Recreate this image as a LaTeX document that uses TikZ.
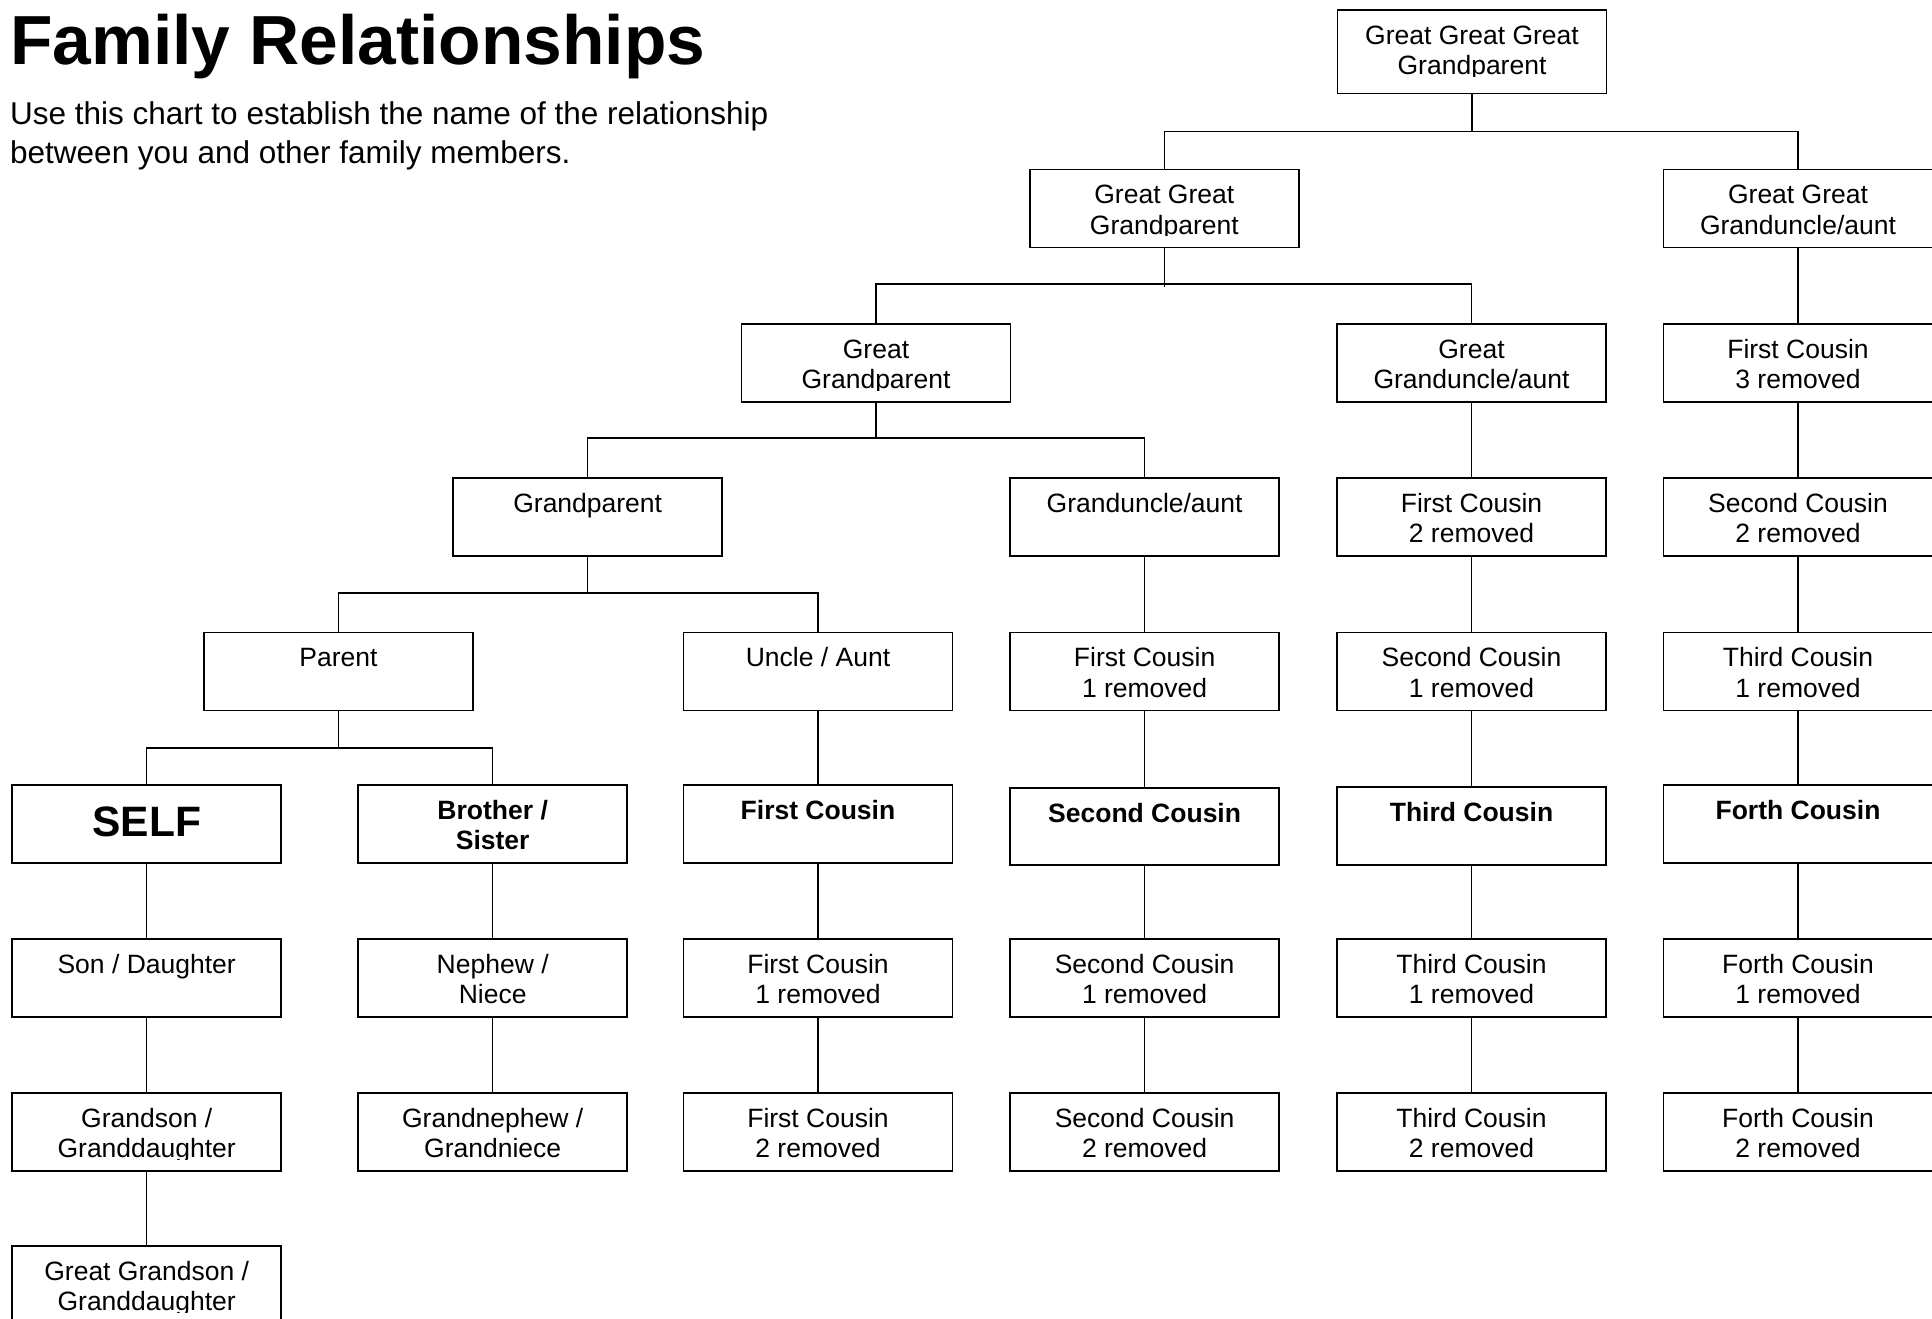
\documentclass[tikz,border=0pt]{standalone}
\usepackage{fontspec}
\setmainfont{Liberation Sans}
\newcommand{\famnode}[6]{%
  \node[fbox, minimum height=#4pt] (#1) at (#2,#3) {};
  \begin{scope}
    \clip ([yshift=5pt]#1.north west) rectangle ([yshift=-67pt]#1.north east);
    \node[#5] (#1t) at ([yshift=-35pt]#1.north) {#6};
  \end{scope}}
\begin{document}
\begin{tikzpicture}[x=1pt,y=-1pt,
  fbox/.style={draw, line width=1.8pt, minimum width=269pt, inner sep=0pt, anchor=north},
  ftext/.style={inner sep=0pt, align=center, anchor=base, font=\fontsize{26.5}{30.5}\selectfont},
  fbold/.style={ftext, font=\bfseries\fontsize{26.5}{30.5}\selectfont},
  ftwo/.style={ftext, yshift=-30.5pt},
  fboldtwo/.style={fbold, yshift=-30.5pt},
  fself/.style={ftext, font=\bfseries\fontsize{42.5}{48}\selectfont, yshift=-17.7pt},
  conn/.style={line width=1.4pt}]
\useasboundingbox (0,0) rectangle (1932,1319);
\clip (0,0) rectangle (1932,1319);

\node[anchor=base west, inner sep=0pt, font=\bfseries\fontsize{69.5}{80}\selectfont] (title) at (10,65) {Family Relationships};
\node[anchor=base west, inner sep=0pt, align=left, font=\fontsize{31.5}{39.5}\selectfont] (sub) at (10,164) {Use this chart to establish the name of the relationship\\between you and other family members.};

% row 0-4
\famnode{ggg}{1472}{9.3}{83.4}{ftwo}{Great Great Great\\Grandparent}
\famnode{gg}{1164.3}{168.5}{78}{ftwo}{Great Great\\Grandparent}
\famnode{ggua}{1798}{168.5}{78}{ftwo}{Great Great\\Granduncle/aunt}
\famnode{g}{876}{323}{78}{ftwo}{Great\\Grandparent}
\famnode{gua}{1471.5}{323}{78}{ftwo}{Great\\Granduncle/aunt}
\famnode{f2}{1798}{323}{78}{ftwo}{First Cousin\\3 removed}
\famnode{gp}{587.7}{477}{78}{ftext}{Grandparent}
\famnode{gu}{1144.6}{477}{78}{ftext}{Granduncle/aunt}
\famnode{e3}{1471.5}{477}{78}{ftwo}{First Cousin\\2 removed}
\famnode{f3}{1798}{477}{78}{ftwo}{Second Cousin\\2 removed}
\famnode{par}{338.5}{631.5}{78}{ftext}{Parent}
\famnode{ua}{818}{631.5}{78}{ftext}{Uncle / Aunt}
\famnode{d4}{1144.6}{631.5}{78}{ftwo}{First Cousin\\1 removed}
\famnode{e4}{1471.5}{631.5}{78}{ftwo}{Second Cousin\\1 removed}
\famnode{f4}{1798}{631.5}{78}{ftwo}{Third Cousin\\1 removed}
% row 5
\famnode{self}{146.7}{784}{78}{fself}{SELF}
\famnode{bro}{492.7}{784}{78}{fboldtwo}{Brother /\\Sister}
\famnode{c5}{818}{784}{78}{fbold}{First Cousin}
\famnode{d5}{1144.6}{787}{77}{fbold}{Second Cousin}
\famnode{e5}{1471.5}{786}{78}{fbold}{Third Cousin}
\famnode{f5}{1798}{784}{78}{fbold}{Forth Cousin}
% row 6
\famnode{a6}{146.7}{938.3}{78}{ftext}{Son / Daughter}
\famnode{b6}{492.7}{938.3}{78}{ftwo}{Nephew /\\Niece}
\famnode{c6}{818}{938.3}{78}{ftwo}{First Cousin\\1 removed}
\famnode{d6}{1144.6}{938.3}{78}{ftwo}{Second Cousin\\1 removed}
\famnode{e6}{1471.5}{938.3}{78}{ftwo}{Third Cousin\\1 removed}
\famnode{f6}{1798}{938.3}{78}{ftwo}{Forth Cousin\\1 removed}
% row 7
\famnode{a7}{146.7}{1092}{78}{ftwo}{Grandson /\\Granddaughter}
\famnode{b7}{492.7}{1092}{78}{ftwo}{Grandnephew /\\Grandniece}
\famnode{c7}{818}{1092}{78}{ftwo}{First Cousin\\2 removed}
\famnode{d7}{1144.6}{1092}{78}{ftwo}{Second Cousin\\2 removed}
\famnode{e7}{1471.5}{1092}{78}{ftwo}{Third Cousin\\2 removed}
\famnode{f7}{1798}{1092}{78}{ftwo}{Forth Cousin\\2 removed}
% row 8
\famnode{a8}{146.7}{1245}{78}{ftwo}{Great Grandson /\\Granddaughter}

% branch levels
\coordinate (h0) at (0,131.5);
\coordinate (h1) at (0,284);
\coordinate (h2) at (0,438);
\coordinate (h3) at (0,593);
\coordinate (h4) at (0,748);

\draw[conn] (ggg.south) -- (ggg.south |- h0) (gg.north) |- (ggg.south |- h0) -| (ggua.north);
\draw[conn] (gg.south) -- ([yshift=-3pt]gg.south |- h1) (g.north) |- (gg.south |- h1) -| (gua.north);
\draw[conn] (g.south) -- (g.south |- h2) (gp.north) |- (g.south |- h2) -| (gu.north);
\draw[conn] (gp.south) -- (gp.south |- h3) (par.north) |- (gp.south |- h3) -| (ua.north);
\draw[conn] (par.south) -- (par.south |- h4) (self.north) |- (par.south |- h4) -| (bro.north);

% vertical chains
\draw[conn] (ggua.south) -- (f2.north) (f2.south) -- (f3.north) (f3.south) -- (f4.north)
  (f4.south) -- (f5.north) (f5.south) -- (f6.north) (f6.south) -- (f7.north);
\draw[conn] (gua.south) -- (e3.north) (e3.south) -- (e4.north) (e4.south) -- (e5.north)
  (e5.south) -- (e6.north) (e6.south) -- (e7.north);
\draw[conn] (gu.south) -- (d4.north) (d4.south) -- (d5.north) (d5.south) -- (d6.north)
  (d6.south) -- (d7.north);
\draw[conn] (ua.south) -- (c5.north) (c5.south) -- (c6.north) (c6.south) -- (c7.north);
\draw[conn] (bro.south) -- (b6.north) (b6.south) -- (b7.north);
\draw[conn] (self.south) -- (a6.north) (a6.south) -- (a7.north) (a7.south) -- (a8.north);
\end{tikzpicture}
\end{document}
